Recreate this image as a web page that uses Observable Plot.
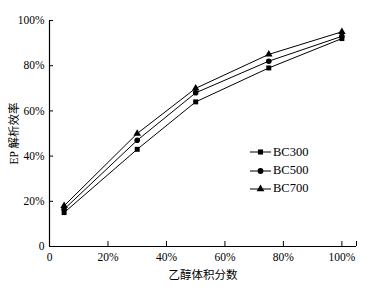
<!DOCTYPE html>
<html>
<head>
<meta charset="utf-8">
<script src="https://cdn.jsdelivr.net/npm/d3@7"></script>
<script src="https://cdn.jsdelivr.net/npm/@observablehq/plot@0.6"></script>
<style>
  body { margin: 0; background: #fff; }
  #wrap { position: relative; width: 383px; height: 289px; font-family: "Times New Roman", "Liberation Serif", "DejaVu Serif", "Noto Sans CJK SC", serif; }
  #wrap svg text { font-family: "Times New Roman", "Liberation Serif", "DejaVu Serif", "Noto Sans CJK SC", serif; }
  #legend { position: absolute; left: 250px; top: 143px; font-size: 12.5px; color: #000; }
  #legend .item { display: flex; align-items: center; height: 18.4px; }
  #legend svg { display: block; margin-right: 2px; }
</style>
</head>
<body>
<div id="wrap"><div id="legend"></div></div>
<script>
const ethanol = [5, 30, 50, 75, 100];
const seriesNames = ["BC300", "BC500", "BC700"];
const symbols = ["square", "circle", "triangle"];
const bc300 = [15, 43, 64, 79, 92];
const bc500 = [16.5, 47, 68, 82, 93];
const bc700 = [18, 50, 70, 85, 95];
const xTicks = [0, 20, 40, 60, 80, 100, 105];
const yTicks = [0, 20, 40, 60, 80, 100];

const seriesValues = [bc300, bc500, bc700];
const data = [];
seriesNames.forEach((s, i) => ethanol.forEach((x, j) => data.push({series: s, x, y: seriesValues[i][j]})));

const pct = d => d === 0 ? "0" : (d > 100 ? "" : d + "%");

const chart = Plot.plot({
  width: 383,
  height: 289,
  marginLeft: 49,
  marginRight: 27,
  marginTop: 20,
  marginBottom: 43,
  style: {fontSize: "11.5px", color: "#000", background: "#fff"},
  x: {domain: [0, 105]},
  y: {domain: [0, 100]},
  symbol: {domain: seriesNames, range: symbols},
  marks: [
    Plot.ruleX([0], {y1: 0, y2: 100, stroke: "#000", strokeWidth: 1.2}),
    Plot.ruleY([0], {x1: 0, x2: 105, stroke: "#000", strokeWidth: 1.2}),
    Plot.axisX({ticks: xTicks, tickFormat: pct, tickSize: -5, tickPadding: 11, label: "乙醇体积分数", labelAnchor: "center", labelOffset: 32, labelArrow: "none", fontSize: 11.5}),
    Plot.axisY({ticks: yTicks, tickFormat: pct, tickSize: -4, tickPadding: 9, label: "EP 解析效率", labelAnchor: "center", labelOffset: 40, labelArrow: "none", fontSize: 11.5}),
    Plot.line(data, {x: "x", y: "y", z: "series", stroke: "#000", strokeWidth: 1}),
    Plot.dot(data, {x: "x", y: "y", symbol: "series", fill: "#000", stroke: "none", r: 2.8})
  ]
});
document.getElementById("wrap").prepend(chart);

const legend = document.getElementById("legend");
const symPath = d3.symbol().size(26);
const symTypes = {square: d3.symbolSquare, circle: d3.symbolCircle, triangle: d3.symbolTriangle};
seriesNames.forEach((s, i) => {
  const item = document.createElement("div");
  item.className = "item";
  item.innerHTML = `<svg width="21" height="10"><line x1="0" x2="21" y1="5" y2="5" stroke="#000" stroke-width="1"/><path transform="translate(10.5,5)" d="${symPath.type(symTypes[symbols[i]])()}" fill="#000"/></svg><span>${s}</span>`;
  legend.appendChild(item);
});
</script>
</body>
</html>
